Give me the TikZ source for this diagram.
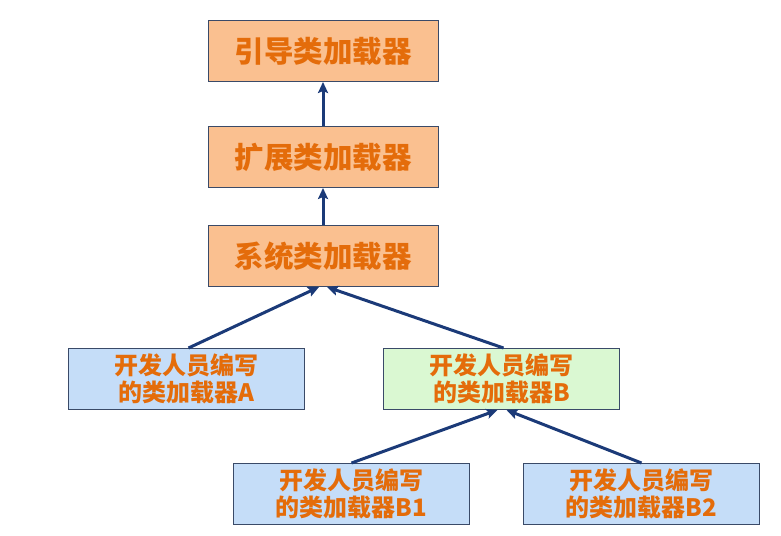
\documentclass[tikz,border=0pt]{standalone}
\usepackage{fontspec}
\setmainfont{Noto Sans CJK SC}
\usetikzlibrary{arrows.meta,positioning}

\definecolor{loaderfill}{HTML}{FAC090}
\definecolor{devfill}{HTML}{C5DDF8}
\definecolor{selfill}{HTML}{DAF8D2}
\definecolor{boxline}{HTML}{3A4A68}
\definecolor{labeltext}{HTML}{E46C0A}
\definecolor{arrowline}{HTML}{1B3A78}

\begin{document}
\begin{tikzpicture}[
    loader/.style={draw=boxline, fill=loaderfill, line width=1pt, minimum width=230pt, minimum height=61pt,
        font=\fontsize{29.5}{33}\selectfont\bfseries, text=labeltext},
    dev/.style={draw=boxline, fill=devfill, line width=1pt, minimum width=236pt, minimum height=61pt, align=center,
        font=\fontsize{24}{27}\selectfont\bfseries, text=labeltext},
    arrow/.style={-{Stealth[length=11pt,width=10pt,inset=2pt]}, line width=3pt, draw=arrowline},
]
    \useasboundingbox (0,0) rectangle (781pt,-535pt);

    \node[loader] (sys) at (323pt,-256pt) {系统类加载器};
    \node[loader, above=37pt of sys] (ext) {扩展类加载器};
    \node[loader, above=44pt of ext] (boot) {引导类加载器};

    \node[dev, below=61pt of sys, xshift=-136.5pt] (devA) {开发人员编写\\的类加载器A};
    \node[dev, below=61pt of sys, xshift=178.5pt, fill=selfill] (devB) {开发人员编写\\的类加载器B};
    \node[dev, below=53pt of devB, xshift=-150pt] (devBa) {开发人员编写\\的类加载器B1};
    \node[dev, below=53pt of devB, xshift=140pt] (devBb) {开发人员编写\\的类加载器B2};

    \draw[arrow] (ext) -- (boot);
    \draw[arrow] (sys) -- (ext);
    \draw[arrow] ([xshift=2pt]devA.north) -- ([xshift=-4pt]sys.south);
    \draw[arrow] ([xshift=2pt]devB.north) -- ([xshift=4pt]sys.south);
    \draw[arrow] (devBa.north) -- ([xshift=-4pt]devB.south);
    \draw[arrow] (devBb.north) -- ([xshift=5pt]devB.south);
\end{tikzpicture}
\end{document}
